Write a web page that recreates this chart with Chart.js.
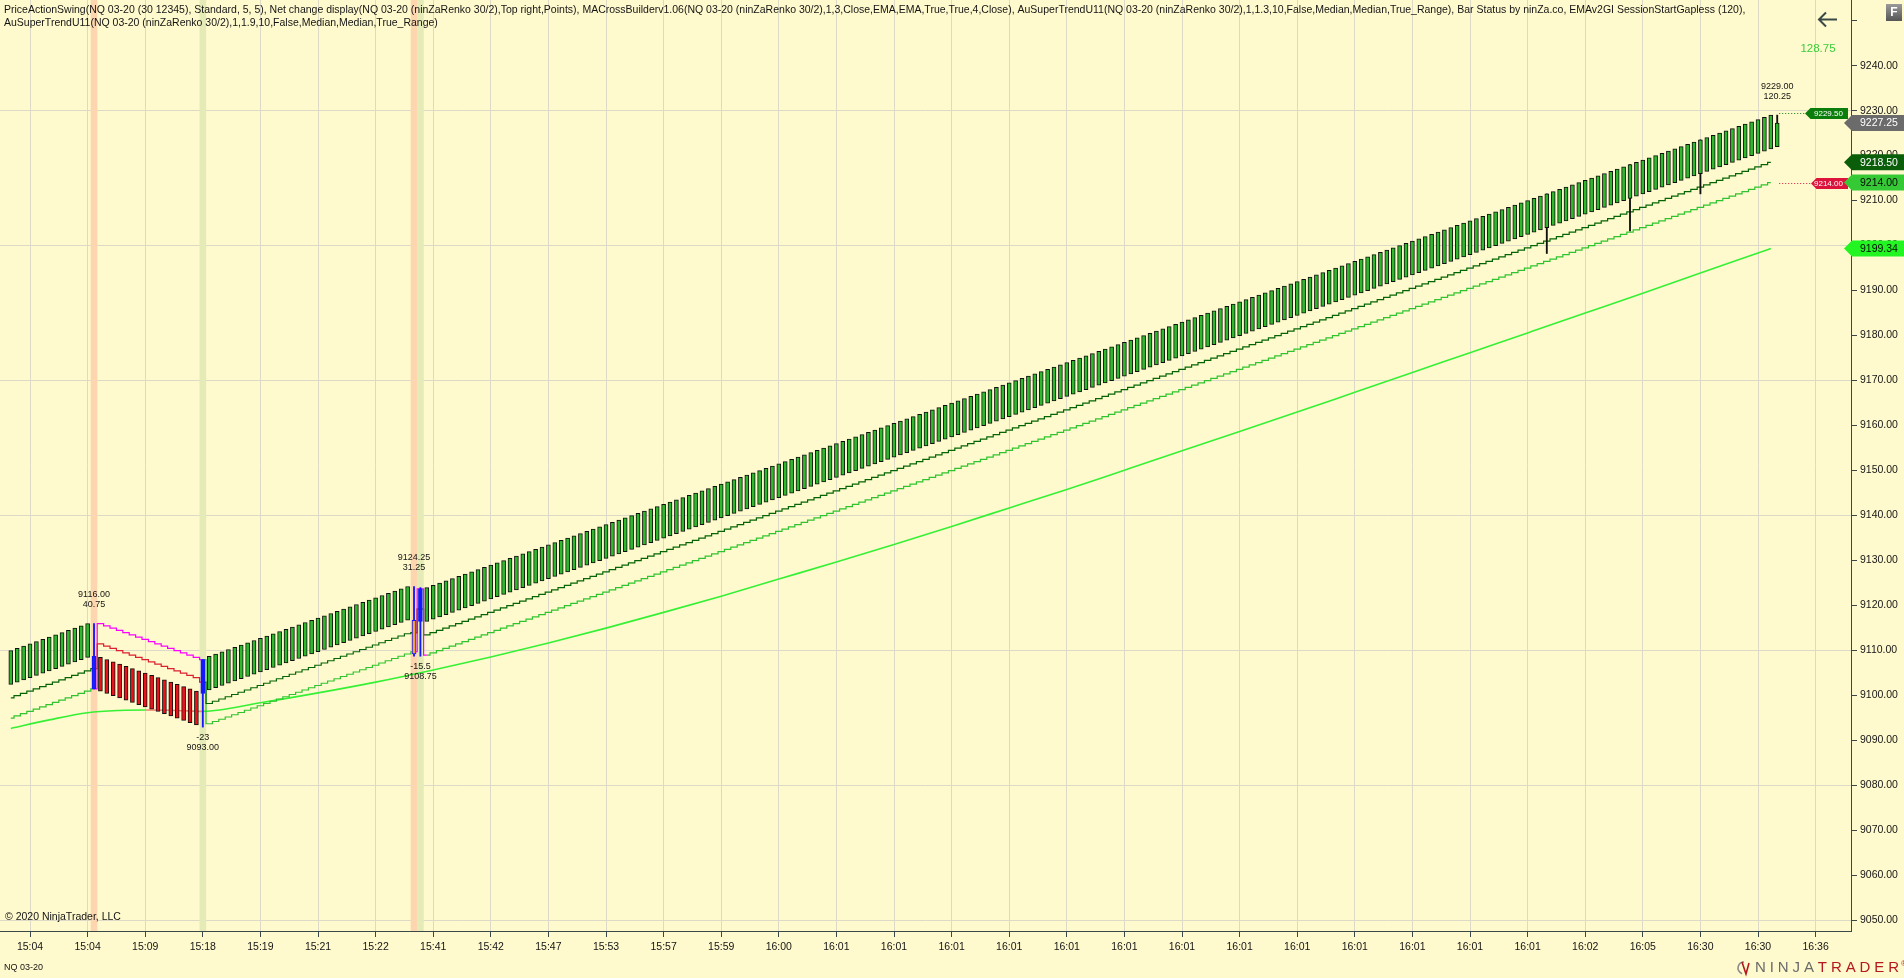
<!DOCTYPE html>
<html>
<head>
<meta charset="utf-8">
<title>NQ 03-20</title>
<script src="https://cdn.jsdelivr.net/npm/chart.js@4.4.1/dist/chart.umd.min.js"></script>
<style>
  html, body { margin: 0; padding: 0; background: #fffacd; overflow: hidden; }
  canvas { display: block; }
</style>
</head>
<body>
<canvas id="myChart" width="1904" height="978"></canvas>
<script>
// time axis: one label every 9 renko bars
const timeLabels = ['15:04', '15:04', '15:09', '15:18', '15:19', '15:21', '15:22', '15:41', '15:42', '15:47', '15:53', '15:57', '15:59', '16:00',
  '16:01', '16:01', '16:01', '16:01', '16:01', '16:01', '16:01', '16:01', '16:01', '16:01', '16:01', '16:01', '16:01',
  '16:02', '16:05', '16:30', '16:30', '16:36'];
const labelBars = [3, 12, 21, 30, 39, 48, 57, 66, 75, 84, 93, 102, 111, 120, 129, 138, 147, 156, 165, 174, 183, 192, 201, 210,
  219, 228, 237, 246, 255, 264, 273, 282];
const yTickValues = [9050, 9060, 9070, 9080, 9090, 9100, 9110, 9120, 9130, 9140, 9150, 9160, 9170, 9180, 9190, 9200, 9210,
  9220, 9230, 9240, 9250];

// renko bricks (bar index = position in the arrays)
const barOpen = [
  9102.5, 9103, 9103.5, 9104, 9104.5, 9105, 9105.5, 9106, 9106.5, 9107, 9107.5, 9108, 9108.5,
  9108.75,
  9108.5, 9108, 9107.5, 9107, 9106.5, 9106, 9105.5, 9105, 9104.5, 9104, 9103.5, 9103, 9102.5, 9102, 9101.5, 9101,
  9100.5,
  9101.25, 9101.75, 9102.25, 9102.75, 9103.25, 9103.75, 9104.25, 9104.75, 9105.25, 9105.75,
  9106.25, 9106.75, 9107.25, 9107.75, 9108.25, 9108.75, 9109.25, 9109.75, 9110.25, 9110.75,
  9111.25, 9111.75, 9112.25, 9112.75, 9113.25, 9113.75, 9114.25, 9114.75, 9115.25, 9115.75,
  9116.25, 9116.75,
  9116.75, 9116.5,
  9116.5, 9117, 9117.5, 9118, 9118.5, 9119, 9119.5, 9120, 9120.5, 9121,
  9121.5, 9122, 9122.5, 9123, 9123.5, 9124, 9124.5, 9125, 9125.5, 9126,
  9126.5, 9127, 9127.5, 9128, 9128.5, 9129, 9129.5, 9130, 9130.5, 9131,
  9131.5, 9132, 9132.5, 9133, 9133.5, 9134, 9134.5, 9135, 9135.5, 9136,
  9136.5, 9137, 9137.5, 9138, 9138.5, 9139, 9139.5, 9140, 9140.5, 9141,
  9141.5, 9142, 9142.5, 9143, 9143.5, 9144, 9144.5, 9145, 9145.5, 9146,
  9146.5, 9147, 9147.5, 9148, 9148.5, 9149, 9149.5, 9150, 9150.5, 9151,
  9151.5, 9152, 9152.5, 9153, 9153.5, 9154, 9154.5, 9155, 9155.5, 9156,
  9156.5, 9157, 9157.5, 9158, 9158.5, 9159, 9159.5, 9160, 9160.5, 9161,
  9161.5, 9162, 9162.5, 9163, 9163.5, 9164, 9164.5, 9165, 9165.5, 9166,
  9166.5, 9167, 9167.5, 9168, 9168.5, 9169, 9169.5, 9170, 9170.5, 9171,
  9171.5, 9172, 9172.5, 9173, 9173.5, 9174, 9174.5, 9175, 9175.5, 9176,
  9176.5, 9177, 9177.5, 9178, 9178.5, 9179, 9179.5, 9180, 9180.5, 9181,
  9181.5, 9182, 9182.5, 9183, 9183.5, 9184, 9184.5, 9185, 9185.5, 9186,
  9186.5, 9187, 9187.5, 9188, 9188.5, 9189, 9189.5, 9190, 9190.5, 9191,
  9191.5, 9192, 9192.5, 9193, 9193.5, 9194, 9194.5, 9195, 9195.5, 9196,
  9196.5, 9197, 9197.5, 9198, 9198.5, 9199, 9199.5, 9200, 9200.5, 9201,
  9201.5, 9202, 9202.5, 9203, 9203.5, 9204, 9204.5, 9205, 9205.5, 9206,
  9206.5, 9207, 9207.5, 9208, 9208.5, 9209, 9209.5, 9210, 9210.5, 9211,
  9211.5, 9212, 9212.5, 9213, 9213.5, 9214, 9214.5, 9215, 9215.5, 9216,
  9216.5, 9217, 9217.5, 9218, 9218.5, 9219, 9219.5, 9220, 9220.5, 9221,
  9221.5,
  9222
];
const barClose = [
  9110, 9110.5, 9111, 9111.5, 9112, 9112.5, 9113, 9113.5, 9114, 9114.5, 9115, 9115.5, 9116,
  9101.5,
  9101, 9100.5, 9100, 9099.5, 9099, 9098.5, 9098, 9097.5, 9097, 9096.5, 9096, 9095.5, 9095, 9094.5, 9094, 9093.5,
  9108,
  9108.75, 9109.25, 9109.75, 9110.25, 9110.75, 9111.25, 9111.75, 9112.25, 9112.75, 9113.25,
  9113.75, 9114.25, 9114.75, 9115.25, 9115.75, 9116.25, 9116.75, 9117.25, 9117.75, 9118.25,
  9118.75, 9119.25, 9119.75, 9120.25, 9120.75, 9121.25, 9121.75, 9122.25, 9122.75, 9123.25,
  9123.75, 9124.25,
  9109.25, 9123.75,
  9124, 9124.5, 9125, 9125.5, 9126, 9126.5, 9127, 9127.5, 9128, 9128.5,
  9129, 9129.5, 9130, 9130.5, 9131, 9131.5, 9132, 9132.5, 9133, 9133.5,
  9134, 9134.5, 9135, 9135.5, 9136, 9136.5, 9137, 9137.5, 9138, 9138.5,
  9139, 9139.5, 9140, 9140.5, 9141, 9141.5, 9142, 9142.5, 9143, 9143.5,
  9144, 9144.5, 9145, 9145.5, 9146, 9146.5, 9147, 9147.5, 9148, 9148.5,
  9149, 9149.5, 9150, 9150.5, 9151, 9151.5, 9152, 9152.5, 9153, 9153.5,
  9154, 9154.5, 9155, 9155.5, 9156, 9156.5, 9157, 9157.5, 9158, 9158.5,
  9159, 9159.5, 9160, 9160.5, 9161, 9161.5, 9162, 9162.5, 9163, 9163.5,
  9164, 9164.5, 9165, 9165.5, 9166, 9166.5, 9167, 9167.5, 9168, 9168.5,
  9169, 9169.5, 9170, 9170.5, 9171, 9171.5, 9172, 9172.5, 9173, 9173.5,
  9174, 9174.5, 9175, 9175.5, 9176, 9176.5, 9177, 9177.5, 9178, 9178.5,
  9179, 9179.5, 9180, 9180.5, 9181, 9181.5, 9182, 9182.5, 9183, 9183.5,
  9184, 9184.5, 9185, 9185.5, 9186, 9186.5, 9187, 9187.5, 9188, 9188.5,
  9189, 9189.5, 9190, 9190.5, 9191, 9191.5, 9192, 9192.5, 9193, 9193.5,
  9194, 9194.5, 9195, 9195.5, 9196, 9196.5, 9197, 9197.5, 9198, 9198.5,
  9199, 9199.5, 9200, 9200.5, 9201, 9201.5, 9202, 9202.5, 9203, 9203.5,
  9204, 9204.5, 9205, 9205.5, 9206, 9206.5, 9207, 9207.5, 9208, 9208.5,
  9209, 9209.5, 9210, 9210.5, 9211, 9211.5, 9212, 9212.5, 9213, 9213.5,
  9214, 9214.5, 9215, 9215.5, 9216, 9216.5, 9217, 9217.5, 9218, 9218.5,
  9219, 9219.5, 9220, 9220.5, 9221, 9221.5, 9222, 9222.5, 9223, 9223.5,
  9224, 9224.5, 9225, 9225.5, 9226, 9226.5, 9227, 9227.5, 9228, 9228.5,
  9229,
  9227.25
];
const reversalBars = [13, 30, 63, 64];
const wickBars = [13, 30, 63, 64, 240, 253, 264, 276];
const wickLow = [9101.5, 9093, 9108.75, 9108.75, 9198.25, 9203.25, 9211.5, 9222];
const wickHigh = [9116, 9108, 9124.25, 9124, 9211.5, 9218, 9223.5, 9229];

// MACrossBuilder line (up trend) and AuSuperTrend up band, one value per bar
const maUpLine = [
  9099.5, 9100, 9100.5, 9101, 9101.5, 9102, 9102.5, 9103, 9103.5, 9104, 9104.5, 9105, 9105.5,
  9106,
  null, null, null, null, null, null, null, null, null, null, null, null, null, null, null, null,
  9103,
  9098.25, 9098.75, 9099.25, 9099.75, 9100.25, 9100.75, 9101.25, 9101.75, 9102.25, 9102.75,
  9103.25, 9103.75, 9104.25, 9104.75, 9105.25, 9105.75, 9106.25, 9106.75, 9107.25, 9107.75,
  9108.25, 9108.75, 9109.25, 9109.75, 9110.25, 9110.75, 9111.25, 9111.75, 9112.25, 9112.75,
  9113.25, 9113.75,
  9114, 9119.25,
  9113.5, 9114, 9114.5, 9115, 9115.5, 9116, 9116.5, 9117, 9117.5, 9118,
  9118.5, 9119, 9119.5, 9120, 9120.5, 9121, 9121.5, 9122, 9122.5, 9123,
  9123.5, 9124, 9124.5, 9125, 9125.5, 9126, 9126.5, 9127, 9127.5, 9128,
  9128.5, 9129, 9129.5, 9130, 9130.5, 9131, 9131.5, 9132, 9132.5, 9133,
  9133.5, 9134, 9134.5, 9135, 9135.5, 9136, 9136.5, 9137, 9137.5, 9138,
  9138.5, 9139, 9139.5, 9140, 9140.5, 9141, 9141.5, 9142, 9142.5, 9143,
  9143.5, 9144, 9144.5, 9145, 9145.5, 9146, 9146.5, 9147, 9147.5, 9148,
  9148.5, 9149, 9149.5, 9150, 9150.5, 9151, 9151.5, 9152, 9152.5, 9153,
  9153.5, 9154, 9154.5, 9155, 9155.5, 9156, 9156.5, 9157, 9157.5, 9158,
  9158.5, 9159, 9159.5, 9160, 9160.5, 9161, 9161.5, 9162, 9162.5, 9163,
  9163.5, 9164, 9164.5, 9165, 9165.5, 9166, 9166.5, 9167, 9167.5, 9168,
  9168.5, 9169, 9169.5, 9170, 9170.5, 9171, 9171.5, 9172, 9172.5, 9173,
  9173.5, 9174, 9174.5, 9175, 9175.5, 9176, 9176.5, 9177, 9177.5, 9178,
  9178.5, 9179, 9179.5, 9180, 9180.5, 9181, 9181.5, 9182, 9182.5, 9183,
  9183.5, 9184, 9184.5, 9185, 9185.5, 9186, 9186.5, 9187, 9187.5, 9188,
  9188.5, 9189, 9189.5, 9190, 9190.5, 9191, 9191.5, 9192, 9192.5, 9193,
  9193.5, 9194, 9194.5, 9195, 9195.5, 9196, 9196.5, 9197, 9197.5, 9198,
  9198.5, 9199, 9199.5, 9200, 9200.5, 9201, 9201.5, 9202, 9202.5, 9203,
  9203.5, 9204, 9204.5, 9205, 9205.5, 9206, 9206.5, 9207, 9207.5, 9208,
  9208.5, 9209, 9209.5, 9210, 9210.5, 9211, 9211.5, 9212, 9212.5, 9213,
  9213.5, 9214, 9214.5, 9215, 9215.5, 9216, 9216.5, 9217, 9217.5, 9218,
  9218.5,
  null
];
const superUpLine = [
  9095, 9095.5, 9096, 9096.5, 9097, 9097.5, 9098, 9098.5, 9099, 9099.5, 9100, 9100.5, 9101,
  9101.5,
  null, null, null, null, null, null, null, null, null, null, null, null, null, null, null, null,
  9108,
  9093.75, 9094.25, 9094.75, 9095.25, 9095.75, 9096.25, 9096.75, 9097.25, 9097.75, 9098.25,
  9098.75, 9099.25, 9099.75, 9100.25, 9100.75, 9101.25, 9101.75, 9102.25, 9102.75, 9103.25,
  9103.75, 9104.25, 9104.75, 9105.25, 9105.75, 9106.25, 9106.75, 9107.25, 9107.75, 9108.25,
  9108.75, 9109.25,
  9109.75, null,
  9109, 9109.5, 9110, 9110.5, 9111, 9111.5, 9112, 9112.5, 9113, 9113.5,
  9114, 9114.5, 9115, 9115.5, 9116, 9116.5, 9117, 9117.5, 9118, 9118.5,
  9119, 9119.5, 9120, 9120.5, 9121, 9121.5, 9122, 9122.5, 9123, 9123.5,
  9124, 9124.5, 9125, 9125.5, 9126, 9126.5, 9127, 9127.5, 9128, 9128.5,
  9129, 9129.5, 9130, 9130.5, 9131, 9131.5, 9132, 9132.5, 9133, 9133.5,
  9134, 9134.5, 9135, 9135.5, 9136, 9136.5, 9137, 9137.5, 9138, 9138.5,
  9139, 9139.5, 9140, 9140.5, 9141, 9141.5, 9142, 9142.5, 9143, 9143.5,
  9144, 9144.5, 9145, 9145.5, 9146, 9146.5, 9147, 9147.5, 9148, 9148.5,
  9149, 9149.5, 9150, 9150.5, 9151, 9151.5, 9152, 9152.5, 9153, 9153.5,
  9154, 9154.5, 9155, 9155.5, 9156, 9156.5, 9157, 9157.5, 9158, 9158.5,
  9159, 9159.5, 9160, 9160.5, 9161, 9161.5, 9162, 9162.5, 9163, 9163.5,
  9164, 9164.5, 9165, 9165.5, 9166, 9166.5, 9167, 9167.5, 9168, 9168.5,
  9169, 9169.5, 9170, 9170.5, 9171, 9171.5, 9172, 9172.5, 9173, 9173.5,
  9174, 9174.5, 9175, 9175.5, 9176, 9176.5, 9177, 9177.5, 9178, 9178.5,
  9179, 9179.5, 9180, 9180.5, 9181, 9181.5, 9182, 9182.5, 9183, 9183.5,
  9184, 9184.5, 9185, 9185.5, 9186, 9186.5, 9187, 9187.5, 9188, 9188.5,
  9189, 9189.5, 9190, 9190.5, 9191, 9191.5, 9192, 9192.5, 9193, 9193.5,
  9194, 9194.5, 9195, 9195.5, 9196, 9196.5, 9197, 9197.5, 9198, 9198.5,
  9199, 9199.5, 9200, 9200.5, 9201, 9201.5, 9202, 9202.5, 9203, 9203.5,
  9204, 9204.5, 9205, 9205.5, 9206, 9206.5, 9207, 9207.5, 9208, 9208.5,
  9209, 9209.5, 9210, 9210.5, 9211, 9211.5, 9212, 9212.5, 9213, 9213.5,
  9214,
  null
];

// down-trend pieces of the same two indicators
const maDownBars = [13, 14, 15, 16, 17, 18, 19, 20, 21, 22, 23, 24, 25, 26, 27, 28, 29, 30, 63, 64];
const maDownValues = [9106, 9111.5, 9111, 9110.5, 9110, 9109.5, 9109, 9108.5, 9108, 9107.5, 9107, 9106.5, 9106, 9105.5,
  9105, 9104.5, 9104, 9103, 9114, 9119.25];
const superDownBars = [13, 14, 15, 16, 17, 18, 19, 20, 21, 22, 23, 24, 25, 26, 27, 28, 29, 30, 63, 64, 65];
const superDownValues = [9101.5, 9116, 9115.5, 9115, 9114.5, 9114, 9113.5, 9113, 9112.5, 9112, 9111.5, 9111, 9110.5, 9110,
  9109.5, 9109, 9108.5, 9108, 9109.75, 9123.75, 9109];

// EMA(120) read at sample bars; it turns salmon while falling
const emaBars = [0, 6, 12, 17, 21, 26, 30, 39, 48, 57, 66, 75, 84, 93, 102, 111, 120, 129, 138, 147, 156, 165, 174, 183,
  192, 201, 210, 219, 228, 237, 246, 255, 264, 273, 275];
const emaValues = [9092.7, 9094.6, 9096.2, 9096.7, 9096.8, 9096.7, 9096.5, 9098.4, 9100.6, 9103.0, 9105.7, 9108.6, 9111.7,
  9115.0, 9118.5, 9122.1, 9125.9, 9129.7, 9133.6, 9137.6, 9141.7, 9145.8, 9150.1, 9154.4, 9158.7, 9163.0, 9167.4, 9171.8,
  9176.2, 9180.6, 9185.0, 9189.4, 9193.9, 9198.35, 9199.34];

// swing points
const swingBars = [13, 30, 63, 64, 276];
const swingPrices = [9116, 9093, 9124.25, 9108.75, 9229];
const swingSide = ['high', 'low', 'high', 'low', 'high'];
const swingPriceText = ['9116.00', '9093.00', '9124.25', '9108.75', '9229.00'];
const swingChangeText = ['40.75', '-23', '31.25', '-15.5', '120.25'];

// bar status shading
const bandBars = [13, 30, 63, 64];
const bandKind = ['high', 'low', 'high', 'low'];

// price markers
const axisMarkerValues = [9227.25, 9218.5, 9214, 9199.34];
const plotMarkerValues = [9229.5, 9214];
const netChange = '128.75';

const FONT = '"Liberation Sans", Arial, sans-serif';
const X_MIN = -1.69, X_MAX = 287.53;
const Y_MIN = 9047.69, Y_MAX = 9254.58;
const GRID = '#dcdac6';
const AXIS = '#3b4848';

function segmentPoints(bars, values) {
  let pts = [];
  bars.forEach((b, k) => {
    if (k > 0 && b - bars[k - 1] > 1) pts.push({ x: b - 0.5, y: null });
    pts.push({ x: b, y: values[k] });
  });
  return pts;
}

function drawFlag(ctx, tipX, rightX, y, h, fill, text, textColor, font, textX) {
  ctx.beginPath();
  ctx.moveTo(tipX, y);
  ctx.lineTo(tipX + h / 2, y - h / 2);
  ctx.lineTo(rightX, y - h / 2);
  ctx.lineTo(rightX, y + h / 2);
  ctx.lineTo(tipX + h / 2, y + h / 2);
  ctx.closePath();
  ctx.fillStyle = fill;
  ctx.fill();
  ctx.fillStyle = textColor;
  ctx.font = font;
  ctx.textAlign = 'left';
  ctx.textBaseline = 'middle';
  ctx.fillText(text, textX, y + 0.5);
}

const overlay = {
  id: 'overlay',
  beforeDraw(chart) {
    let ctx = chart.ctx;
    ctx.save();
    ctx.fillStyle = '#fffacd';
    ctx.fillRect(0, 0, chart.width, chart.height);
    ctx.restore();
  },
  afterDatasetsDraw(chart) {
    let ctx = chart.ctx;
    let xs = chart.scales.x, ys = chart.scales.y;
    let area = chart.chartArea;
    ctx.save();

    // swing labels
    ctx.font = '9px ' + FONT;
    ctx.fillStyle = '#141414';
    ctx.textAlign = 'center';
    ctx.textBaseline = 'middle';
    swingBars.forEach((b, k) => {
      let px = xs.getPixelForValue(b);
      let py = ys.getPixelForValue(swingPrices[k]);
      if (swingSide[k] === 'high') {
        ctx.fillText(swingPriceText[k], px, py - 29);
        ctx.fillText(swingChangeText[k], px, py - 19);
      } else {
        ctx.fillText(swingChangeText[k], px, py + 10);
        ctx.fillText(swingPriceText[k], px, py + 20);
      }
    });

    // renko targets with dotted leaders
    let lastX = xs.getPixelForValue(barClose.length - 1) + 2;
    let plotColors = ['#0b7d0b', '#dc143c'];
    let tips = [area.right - 46, area.right - 40];
    plotMarkerValues.forEach((v, k) => {
      let py = Math.round(ys.getPixelForValue(v)) + 0.5;
      ctx.strokeStyle = plotColors[k];
      ctx.lineWidth = 1;
      ctx.setLineDash([1, 2]);
      ctx.beginPath();
      ctx.moveTo(lastX, py);
      ctx.lineTo(tips[k], py);
      ctx.stroke();
      ctx.setLineDash([]);
      drawFlag(ctx, tips[k], area.right - 3, py, 11, plotColors[k], v.toFixed(2), '#ffffff', '8px ' + FONT, area.right - 37);
    });
    ctx.restore();
  },
  afterDraw(chart) {
    let ctx = chart.ctx;
    let ys = chart.scales.y;
    let area = chart.chartArea;
    ctx.save();

    // price markers on the axis
    let fills = ['#6b6b6b', '#0a5e0a', '#36c936', '#22f522'];
    let inks = ['#ffffff', '#ffffff', '#0a0a0a', '#0a0a0a'];
    axisMarkerValues.forEach((v, k) => {
      let py = ys.getPixelForValue(v);
      drawFlag(ctx, area.right - 7, chart.width, py, 16, fills[k], v.toFixed(2), inks[k], '10.5px ' + FONT, area.right + 9);
    });

    // indicator caption
    ctx.font = '10.5px ' + FONT;
    ctx.fillStyle = '#141414';
    ctx.textAlign = 'left';
    ctx.textBaseline = 'middle';
    ctx.fillText('PriceActionSwing(NQ 03-20 (30 12345), Standard, 5, 5), Net change display(NQ 03-20 (ninZaRenko 30/2),Top right,Points), MACrossBuilderv1.06(NQ 03-20 (ninZaRenko 30/2),1,3,Close,EMA,EMA,True,True,4,Close), AuSuperTrendU11(NQ 03-20 (ninZaRenko 30/2),1,1.3,10,False,Median,Median,True_Range), Bar Status by ninZa.co, EMAv2GI SessionStartGapless (120),', 4, 10);
    ctx.fillText('AuSuperTrendU11(NQ 03-20 (ninZaRenko 30/2),1,1.9,10,False,Median,Median,True_Range)', 4, 23);
    ctx.fillText('\u00a9 2020 NinjaTrader, LLC', 5, 917);
    ctx.font = '9px ' + FONT;
    ctx.fillText('NQ 03-20', 4, 968);

    // net change
    ctx.font = '11.5px ' + FONT;
    ctx.fillStyle = '#3ccd3c';
    ctx.textAlign = 'center';
    ctx.fillText(netChange, area.right - 33, 49);

    // back arrow
    ctx.strokeStyle = AXIS;
    ctx.lineWidth = 2;
    ctx.beginPath();
    ctx.moveTo(area.right - 32, 19.5);
    ctx.lineTo(area.right - 14, 19.5);
    ctx.moveTo(area.right - 25, 12.5);
    ctx.lineTo(area.right - 32, 19.5);
    ctx.lineTo(area.right - 25, 26.5);
    ctx.stroke();

    // F button
    let g = ctx.createLinearGradient(0, 4, 0, 21);
    g.addColorStop(0, '#9a9a9a');
    g.addColorStop(1, '#555555');
    ctx.fillStyle = g;
    ctx.fillRect(chart.width - 18, 4, 16, 17);
    ctx.fillStyle = '#ffffff';
    ctx.font = 'bold 12px ' + FONT;
    ctx.fillText('F', chart.width - 10, 13);

    // NinjaTrader logo
    let lx = chart.width - 160, ly = 968;
    ctx.lineWidth = 1.6;
    ctx.strokeStyle = '#8a8a8a';
    ctx.beginPath();
    ctx.arc(lx, ly, 6, Math.PI * 0.6, Math.PI * 1.5);
    ctx.stroke();
    ctx.strokeStyle = '#b3191f';
    ctx.beginPath();
    ctx.moveTo(lx - 2, ly - 6);
    ctx.lineTo(lx + 2, ly + 6);
    ctx.lineTo(lx + 5, ly - 5);
    ctx.stroke();
    ctx.font = '15px ' + FONT;
    ctx.textAlign = 'left';
    let cx = lx + 11;
    'NINJATRADER'.split('').forEach((ch, k) => {
      ctx.fillStyle = k < 5 ? '#6a6a6a' : '#b3191f';
      ctx.fillText(ch, cx, ly);
      cx += ctx.measureText(ch).width + 3.9;
    });
    ctx.font = '8px ' + FONT;
    ctx.fillText('\u00ae', cx - 2, ly - 4);
    ctx.restore();
  }
};

function buildChart() {
  let bodyFill = barClose.map((c, i) => {
    let r = reversalBars.indexOf(i);
    if (r === 0) return 'rgba(0,0,0,0)';
    if (r === 2) return '#f2a23c';
    if (r >= 0) return '#1616ff';
    return c > barOpen[i] ? '#2db82d' : '#e8131b';
  });
  let bodyBorder = barClose.map((c, i) => reversalBars.includes(i) ? '#1616ff' : '#101010');

  let ctx = document.getElementById('myChart').getContext('2d');
  let myChart = new Chart(ctx, {
    type: 'bar',
    data: {
      datasets: [
        {
          label: 'bar status',
          data: bandBars.map(b => ({ x: b, y: [Y_MIN, Y_MAX] })),
          backgroundColor: bandKind.map(k => k === 'high' ? '#fdd6b0' : '#e4ebb6'),
          borderWidth: 0,
          grouped: false,
          barPercentage: 1,
          categoryPercentage: 1,
          maxBarThickness: 6,
          order: 20
        },
        {
          type: 'line',
          label: 'EMA 120',
          data: emaBars.map((b, k) => ({ x: b, y: emaValues[k] })),
          borderColor: '#35f035',
          borderWidth: 1.6,
          pointRadius: 0,
          cubicInterpolationMode: 'monotone',
          segment: {
            borderColor: s => (s.p0.parsed.x >= 21 && s.p1.parsed.x <= 30) ? '#f08672' : '#35f035'
          },
          order: 12
        },
        {
          type: 'line',
          label: 'SuperTrend up',
          data: superUpLine.map((v, i) => ({ x: i, y: v })),
          borderColor: '#2fc42f',
          borderWidth: 1.2,
          pointRadius: 0,
          stepped: 'middle',
          spanGaps: false,
          order: 11
        },
        {
          type: 'line',
          label: 'MA up',
          data: maUpLine.map((v, i) => ({ x: i, y: v })),
          borderColor: '#046504',
          borderWidth: 1.2,
          pointRadius: 0,
          stepped: 'middle',
          spanGaps: false,
          order: 10
        },
        {
          type: 'line',
          label: 'SuperTrend down',
          data: segmentPoints(superDownBars, superDownValues),
          borderColor: '#ff00ff',
          borderWidth: 1.2,
          pointRadius: 0,
          stepped: 'middle',
          spanGaps: false,
          order: 9
        },
        {
          type: 'line',
          label: 'MA down',
          data: segmentPoints(maDownBars, maDownValues),
          borderColor: '#dc1f33',
          borderWidth: 1.2,
          pointRadius: 0,
          stepped: 'middle',
          spanGaps: false,
          order: 8
        },
        {
          label: 'wicks',
          data: wickBars.map((b, k) => ({ x: b, y: [wickLow[k], wickHigh[k]] })),
          backgroundColor: wickBars.map(b => reversalBars.includes(b) ? '#1616ff' : '#101010'),
          borderWidth: 0,
          grouped: false,
          barPercentage: 1,
          categoryPercentage: 1,
          maxBarThickness: 1.2,
          order: 3
        },
        {
          label: 'renko',
          data: barClose.map((c, i) => ({ x: i, y: [barOpen[i], c] })),
          backgroundColor: bodyFill,
          borderColor: bodyBorder,
          borderWidth: 1,
          borderSkipped: false,
          grouped: false,
          barPercentage: 1,
          categoryPercentage: 1,
          maxBarThickness: 4,
          order: 1
        }
      ]
    },
    options: {
      responsive: false,
      animation: false,
      events: [],
      devicePixelRatio: 1,
      layout: { padding: 0 },
      plugins: {
        legend: { display: false },
        tooltip: { enabled: false }
      },
      scales: {
        x: {
          type: 'linear',
          min: X_MIN,
          max: X_MAX,
          offset: false,
          afterBuildTicks: s => { s.ticks = labelBars.map(v => ({ value: v })); },
          afterFit: s => { s.height = 47; s.paddingLeft = 0; s.paddingRight = 0; },
          ticks: {
            autoSkip: false,
            maxRotation: 0,
            padding: 4,
            color: '#141414',
            font: { family: FONT, size: 10.5 },
            callback: (v, i) => timeLabels[i]
          },
          grid: { color: GRID, tickColor: AXIS, tickLength: 6, offset: false },
          border: { display: true, color: AXIS, width: 1 }
        },
        y: {
          position: 'right',
          min: Y_MIN,
          max: Y_MAX,
          afterBuildTicks: s => { s.ticks = yTickValues.map(v => ({ value: v })); },
          afterFit: s => { s.width = 53; s.paddingTop = 0; s.paddingBottom = 0; },
          ticks: {
            padding: 3,
            color: '#141414',
            font: { family: FONT, size: 10.5 },
            callback: v => v === 9250 ? '' : v.toFixed(2)
          },
          grid: {
            color: c => (c.tick && c.tick.value % 30 === 20) ? GRID : 'rgba(0,0,0,0)',
            tickColor: AXIS,
            tickLength: 6
          },
          border: { display: true, color: AXIS, width: 1 }
        }
      }
    },
    plugins: [overlay]
  });
  return myChart;
}

buildChart();
</script>
</body>
</html>
